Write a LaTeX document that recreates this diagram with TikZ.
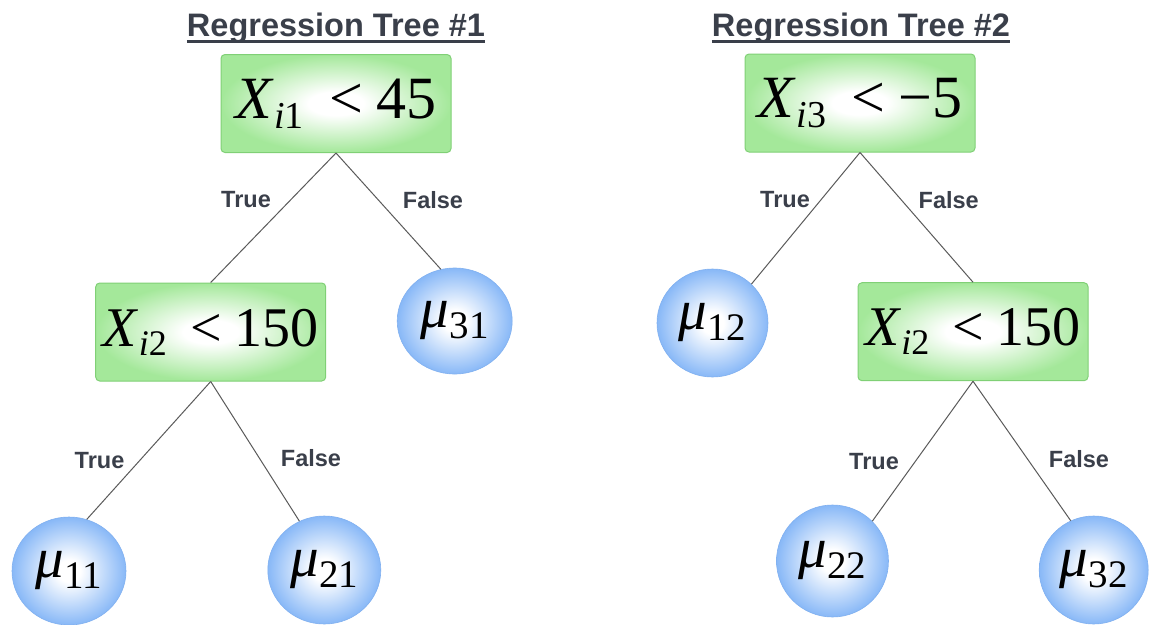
\documentclass[tikz,border=0pt]{standalone}
\usepackage{fontspec}
\setmainfont{Liberation Serif}
\newfontfamily\labfont{Liberation Sans}
\usetikzlibrary{shapes.geometric}
\definecolor{gedge}{RGB}{164,232,154}
\definecolor{gborder}{RGB}{128,208,118}
\definecolor{bedge}{RGB}{136,184,247}
\definecolor{bborder}{RGB}{128,176,240}
\definecolor{txtdark}{RGB}{58,63,74}
\definecolor{edgegray}{RGB}{90,90,90}
\pgfdeclareradialshading{greenglow}{\pgfpoint{0bp}{0bp}}{color(0bp)=(white); color(6bp)=(white); color(25bp)=(gedge); color(50bp)=(gedge)}
\pgfdeclareradialshading{blueglow}{\pgfpoint{0bp}{0bp}}{color(0bp)=(white); color(5bp)=(white); color(25bp)=(bedge); color(50bp)=(bedge)}
\newcommand{\cnd}[4]{\fontsize{#1}{#1}\selectfont\textit{X}\raisebox{-0.16em}{\fontsize{#2}{#2}\selectfont\textit{i}#3}\hspace{0.42em}<\hspace{0.22em}#4}
\newcommand{\mub}[1]{\fontsize{57}{57}\selectfont\textit{μ}\raisebox{-11pt}{\fontsize{39}{39}\selectfont #1}}
\tikzset{
  gbox/.style={rectangle, rounded corners=4pt, minimum width=230pt, minimum height=98pt, inner sep=0pt, shade, shading=greenglow, draw=gborder, line width=1pt},
  bcirc/.style={ellipse, inner sep=0pt, shade, shading=blueglow, draw=bborder, line width=0.6pt},
  lab/.style={font=\labfont\bfseries\fontsize{23.5}{24}\selectfont, text=txtdark, inner sep=0pt},
  ttl/.style={font=\labfont\bfseries\fontsize{32.5}{34}\selectfont, text=txtdark, inner sep=0pt, anchor=base},
  edge/.style={draw=edgegray, line width=1pt}
}
\begin{document}
\begin{tikzpicture}[x=1pt,y=-1pt]
\useasboundingbox[fill=white] (0,0) rectangle (1150,624);
% titles
\node[ttl] (t1) at (336,36) {Regression Tree \#1};
\node[ttl] (t2) at (861,36) {Regression Tree \#2};
\draw[txtdark, line width=2.5pt] ([yshift=-5.5pt]t1.base west) -- ([yshift=-5.5pt]t1.base east);
\draw[txtdark, line width=2.5pt] ([yshift=-5.5pt]t2.base west) -- ([yshift=-5.5pt]t2.base east);
% tree 1
\node[gbox] (A) at (336,103.5) {\cnd{60}{38}{1}{45}};
\node[gbox] (B) at (210.7,332) {\cnd{56}{36}{2}{150}};
\node[bcirc, minimum width=115pt, minimum height=106pt] (m31) at (454.7,321) {\mub{31}};
\node[bcirc, minimum width=114pt, minimum height=108pt] (m11) at (69,571) {\mub{11}};
\node[bcirc, minimum width=113pt, minimum height=108pt] (m21) at (324.3,570) {\mub{21}};
% tree 2
\node[gbox] (C) at (860,103) {\cnd{60}{38}{3}{−5}};
\node[gbox] (D) at (973,331.7) {\cnd{56}{36}{2}{150}};
\node[bcirc, minimum width=111pt, minimum height=108pt] (m12) at (712.5,323) {\mub{12}};
\node[bcirc, minimum width=112pt, minimum height=112pt] (m22) at (832.5,561) {\mub{22}};
\node[bcirc, minimum width=109pt, minimum height=108pt] (m32) at (1093.7,570) {\mub{32}};
% connectors
\draw[edge] (A.south) -- (B.north);
\draw[edge] (A.south) -- (m31.105.8);
\draw[edge] (B.south) -- (m11.71.8);
\draw[edge] (B.south) -- (m21.117.2);
\draw[edge] (C.south) -- (m12.45.7);
\draw[edge] (C.south) -- (D.north);
\draw[edge] (D.south) -- (m22.45.6);
\draw[edge] (D.south) -- (m32.115);
% labels
\node[lab] (l1) at (246,200) {True};
\node[lab] (l2) at (433,200.5) {False};
\node[lab] (l3) at (99.5,461) {True};
\node[lab] (l4) at (311,458) {False};
\node[lab] (l5) at (785,200) {True};
\node[lab] (l6) at (948.7,200) {False};
\node[lab] (l7) at (874,462) {True};
\node[lab] (l8) at (1079,458.7) {False};
\end{tikzpicture}
\end{document}
